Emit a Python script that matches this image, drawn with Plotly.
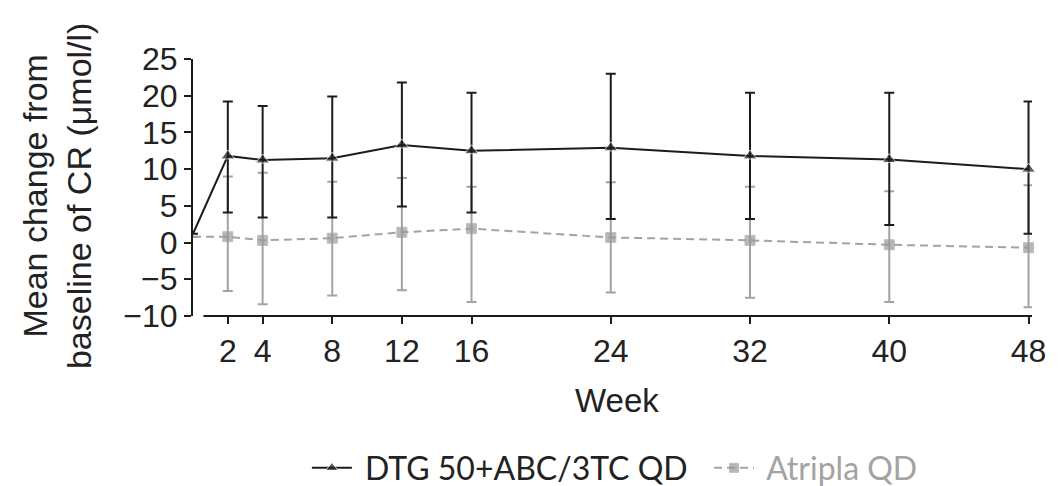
import plotly.graph_objects as go

weeks = [0, 2, 4, 8, 12, 16, 24, 32, 40, 48]

dtg_mean = [1.2, 11.8, 11.25, 11.5, 13.3, 12.5, 12.9, 11.8, 11.3, 10.0]
dtg_upper = [None, 19.2, 18.6, 19.9, 21.8, 20.4, 23.0, 20.4, 20.4, 19.2]
dtg_lower = [None, 4.1, 3.4, 3.4, 4.9, 4.1, 3.2, 3.2, 2.4, 1.2]

atr_mean = [0.8, 0.8, 0.3, 0.6, 1.4, 1.9, 0.7, 0.3, -0.3, -0.7]
atr_upper = [None, 9.0, 9.5, 8.3, 8.8, 7.6, 8.2, 7.6, 7.0, 7.8]
atr_lower = [None, -6.6, -8.4, -7.2, -6.5, -8.1, -6.8, -7.5, -8.1, -8.8]

x_ticks = [2, 4, 8, 12, 16, 24, 32, 40, 48]
y_ticks = [-10, -5, 0, 5, 10, 15, 20, 25]

dtg_name = "DTG 50+ABC/3TC QD"
atr_name = "Atripla QD"
x_title = "Week"
y_title = "Mean change from<br>baseline of CR (μmol/l)"


def err_plus(mean, upper):
    return [None if u is None else u - m for m, u in zip(mean, upper)]


def err_minus(mean, lower):
    return [None if l is None else m - l for m, l in zip(mean, lower)]


def marker_sizes(upper, size):
    return [0 if u is None else size for u in upper]


GRAY = "#a3a3a3"
BLACK = "#1c1c1c"
AXIS_FONT = "Liberation Sans, Arial, sans-serif"
LEG_FONT = "Lato, Open Sans, sans-serif"

fig = go.Figure()

fig.add_trace(go.Scatter(
    x=weeks, y=atr_mean, mode="lines+markers",
    name=f"<span style='color:{GRAY}'>&nbsp;{atr_name}</span>",
    line=dict(color=GRAY, width=2, dash="8px,5px"),
    marker=dict(symbol="square", size=marker_sizes(atr_upper, 10), color="#999999"),
    error_y=dict(type="data", symmetric=False,
                 array=err_plus(atr_mean, atr_upper),
                 arrayminus=err_minus(atr_mean, atr_lower),
                 color=GRAY, thickness=2, width=5),
    cliponaxis=False,
))

fig.add_trace(go.Scatter(
    x=weeks, y=dtg_mean, mode="lines+markers",
    name="&nbsp;" + dtg_name + "&nbsp;&nbsp;",
    line=dict(color=BLACK, width=2),
    marker=dict(symbol="triangle-up", size=marker_sizes(dtg_upper, 12), color=BLACK),
    error_y=dict(type="data", symmetric=False,
                 array=err_plus(dtg_mean, dtg_upper),
                 arrayminus=err_minus(dtg_mean, dtg_lower),
                 color=BLACK, thickness=2, width=5),
    cliponaxis=False,
))

# detached x-axis line (as in the reference)
fig.add_shape(type="line", xref="x", yref="paper", x0=0.6, x1=48.2, y0=0, y1=0,
              line=dict(color=BLACK, width=2))

fig.add_annotation(text=y_title, xref="paper", yref="paper", x=-0.162, y=0.467,
                   xanchor="center", yanchor="middle", textangle=-90, showarrow=False,
                   font=dict(family=AXIS_FONT, size=34, color="#222222"))
fig.add_annotation(text=x_title, xref="paper", yref="paper", x=0.505, y=-0.33,
                   xanchor="center", yanchor="middle", showarrow=False,
                   font=dict(family=AXIS_FONT, size=33, color="#222222"))

fig.update_layout(
    width=1062, height=486,
    margin=dict(l=193, r=30, t=59, b=170, pad=0),
    paper_bgcolor="white", plot_bgcolor="white",
    showlegend=True,
    legend=dict(orientation="h", xref="container", x=0.579, xanchor="center",
                yref="container", y=0.037, yanchor="middle",
                font=dict(family=LEG_FONT, size=32, color="#222222"),
                traceorder="reversed", itemwidth=40, bgcolor="rgba(0,0,0,0)"),
    font=dict(family=AXIS_FONT, size=32, color="#222222"),
)

fig.update_xaxes(range=[0, 48.2], tickvals=x_ticks, ticks="outside", ticklen=7,
                 tickwidth=2, tickcolor=BLACK, showline=False, showgrid=False,
                 zeroline=False, tickfont=dict(family=AXIS_FONT, size=32, color="#222222"))
fig.update_yaxes(range=[-10, 25], tickvals=y_ticks, ticks="outside", ticklen=7,
                 tickwidth=2, tickcolor=BLACK, showline=True, linecolor=BLACK, linewidth=2,
                 showgrid=False, zeroline=False,
                 tickfont=dict(family=AXIS_FONT, size=32, color="#222222"))

fig.write_html("out.html")
